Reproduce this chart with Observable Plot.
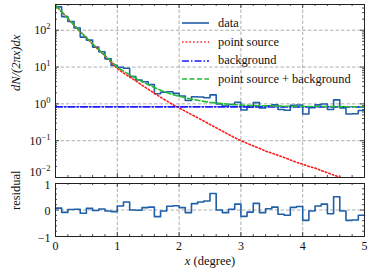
<!DOCTYPE html>
<html><head><meta charset="utf-8">
<script src="https://cdn.jsdelivr.net/npm/d3@7"></script>
<script src="https://cdn.jsdelivr.net/npm/@observablehq/plot@0.6"></script>
<style>
body{margin:0;background:#fff;font-family:"Liberation Serif","Times New Roman","DejaVu Serif",serif;}
#wrap{position:relative;width:373px;height:276px;}
#wrap svg{display:block}
#legend{position:absolute;left:182px;top:14px;font-family:"Liberation Serif","Times New Roman","DejaVu Serif",serif;font-size:12.4px;color:#111;}
#legend .row{height:18.7px;display:flex;align-items:center;}
#legend .row span{margin-left:9px;}
</style></head><body><div id="wrap"><div id="legend"></div></div>
<script>
// ---- data ----
const binEdges = [0,0.1,0.2,0.3,0.4,0.5,0.6,0.7,0.8,0.9,1.0,1.1,1.2,1.3,1.4,1.5,1.6,1.7,1.8,1.9,2.0,2.1,2.2,2.3,2.4,2.5,2.6,2.7,2.8,2.9,3.0,3.1,3.2,3.3,3.4,3.5,3.6,3.7,3.8,3.9,4.0,4.1,4.2,4.3,4.4,4.5,4.6,4.7,4.8,4.9,5.0];
const dataValues = [430,234,173,115,65,54,34.8,26.1,16.7,11.1,9.9,9.3,5.5,4.45,3.98,3.33,1.89,2.06,2.13,1.93,1.64,1.23,1.56,1.53,1.47,1.75,1.0,0.87,0.96,1.11,0.68,0.81,1.08,0.77,0.89,0.94,0.70,0.67,0.91,0.93,0.53,0.79,0.94,0.99,0.70,1.28,0.78,0.53,0.54,0.66];
const residualValues = [0.07,-0.09,0.02,0.03,-0.12,0.06,-0.02,0.04,-0.04,-0.06,0.15,0.3,0.0,-0.01,0.09,0.11,-0.25,-0.04,0.14,0.16,0.09,-0.1,0.24,0.3,0.34,0.62,0.0,-0.1,0.03,0.22,-0.24,-0.08,0.25,-0.1,0.05,0.11,-0.16,-0.2,0.1,0.13,-0.39,-0.04,0.15,0.22,-0.14,0.5,-0.04,-0.39,-0.38,-0.2];
const modelX = binEdges;
const pointSource = [479,316,209,138,91,62,42,29,20,13.5,9.1,6.9,5.4,4.2,3.2,2.5,1.95,1.51,1.2,0.95,0.78,0.63,0.51,0.42,0.34,0.275,0.224,0.182,0.148,0.12,0.1,0.085,0.072,0.062,0.052,0.046,0.040,0.035,0.030,0.026,0.023,0.020,0.018,0.0155,0.0135,0.0117,0.0102,0.0089,0.0078,0.0068,0.0059];
const background = 0.83;
const xTicks = [0,1,2,3,4,5];
const xMinorTicks = [0.2,0.4,0.6,0.8,1.2,1.4,1.6,1.8,2.2,2.4,2.6,2.8,3.2,3.4,3.6,3.8,4.2,4.4,4.6,4.8];
const xGrid = [1,2,3,4];
const yTicks = [0.01,0.1,1,10,100];
const yTickExp = ["−2","−1","0","1","2"];
const resTicks = [-1,0,1];
const resTickLabels = ["−1","0","1"];
const resMinorTicks = [-0.8,-0.6,-0.4,-0.2,0.2,0.4,0.6,0.8];
const legendLabels = ["data","point source","background","point source + background"];

// ---- styles ----
const FONT = "'Liberation Serif', 'Times New Roman', 'DejaVu Serif', serif";
const C = {data:"#1f5fa8", ps:"#ff1a1a", bg:"#1a1aff", sum:"#22bb33", grid:"#9a9a9a", ax:"#222"};
const W = 373, ML = 55, MR = 9;
const PW = W - ML - MR;

const steps = dataValues.map((v,i)=>({x:binEdges[i], y:v})).concat([{x:binEdges[50], y:dataValues[49]}]);
const rsteps = residualValues.map((v,i)=>({x:binEdges[i], y:v})).concat([{x:binEdges[50], y:residualValues[49]}]);
const psLine = modelX.map((x,i)=>({x, y:pointSource[i]}));
const bgLine = modelX.map(x=>({x, y:background}));
const sumLine = modelX.map((x,i)=>({x, y:pointSource[i]+background}));

const yMinor = [];
for (const d of [0.01,0.1,1,10,100]) for (let k=2;k<=9;k++) if (d*k<500) yMinor.push(d*k);

function frameTicks(xs, len, ph) {
  return [
    Plot.tickX(xs,{x:d=>d, insetTop:ph-len, stroke:C.ax, strokeWidth:0.8}),
    Plot.tickX(xs,{x:d=>d, insetBottom:ph-len, stroke:C.ax, strokeWidth:0.8})
  ];
}
function frameTicksY(ys, len) {
  return [
    Plot.tickY(ys,{y:d=>d, insetRight:PW-len, stroke:C.ax, strokeWidth:0.8}),
    Plot.tickY(ys,{y:d=>d, insetLeft:PW-len, stroke:C.ax, strokeWidth:0.8})
  ];
}
const gridStyle = {stroke:C.grid, strokeWidth:0.8, strokeDasharray:"3.5,2"};

const TH = 180, TMT = 4, TMB = 3, TPH = TH - TMT - TMB;
const topChart = Plot.plot({
  width:W, height:TH, marginLeft:ML, marginRight:MR, marginTop:TMT, marginBottom:TMB,
  style:{fontFamily:FONT, fontSize:"12px", background:"white", overflow:"visible"},
  x:{domain:[0,5], axis:null},
  y:{type:"log", domain:[0.01,500], axis:null},
  marks:[
    Plot.ruleX(xGrid, {x:d=>d, ...gridStyle}),
    Plot.ruleY(yTicks.slice(1), {y:d=>d, ...gridStyle}),
    ...frameTicks(xTicks, 4, TPH), ...frameTicks(xMinorTicks, 2, TPH),
    ...frameTicksY(yTicks, 4), ...frameTicksY(yMinor, 2),
    Plot.line(steps, {x:"x", y:"y", curve:"step-after", stroke:C.data, strokeWidth:1.6, clip:true}),
    Plot.line(psLine, {x:"x", y:"y", stroke:C.ps, strokeWidth:1.6, strokeDasharray:"1.5,2.2", clip:true}),
    Plot.line(bgLine, {x:"x", y:"y", stroke:C.bg, strokeWidth:1.6, strokeDasharray:"7,2,1.5,2"}),
    Plot.line(sumLine, {x:"x", y:"y", stroke:C.sum, strokeWidth:1.6, strokeDasharray:"5,2.5", clip:true}),
    Plot.text(yTicks, {y:d=>d, text:(d,i)=>"10^"+yTickExp[i], frameAnchor:"left", textAnchor:"end", dx:-5, fill:"#111", fontFamily:FONT, fontSize:12}),
    Plot.text(["dN/(2πx)dx"], {frameAnchor:"left", dx:-40, rotate:-90, fontStyle:"italic", fontSize:12.5, fill:"#111", fontFamily:FONT}),
    Plot.frame({stroke:C.ax, strokeWidth:1})
  ]
});

const BH = 96, BMT = 3, BMB = 40, BPH = BH - BMT - BMB;
const bottomChart = Plot.plot({
  width:W, height:BH, marginLeft:ML, marginRight:MR, marginTop:BMT, marginBottom:BMB,
  style:{fontFamily:FONT, fontSize:"12px", background:"white", overflow:"visible"},
  x:{domain:[0,5], axis:null},
  y:{domain:[-1,1], axis:null},
  marks:[
    Plot.ruleX(xGrid, {x:d=>d, ...gridStyle}),
    Plot.ruleY([0], {y:d=>d, ...gridStyle}),
    ...frameTicks(xTicks, 4, BPH), ...frameTicks(xMinorTicks, 2, BPH),
    ...frameTicksY(resTicks, 4), ...frameTicksY(resMinorTicks, 2),
    Plot.line(rsteps, {x:"x", y:"y", curve:"step-after", stroke:C.data, strokeWidth:1.6}),
    Plot.text(resTicks, {y:d=>d, text:(d,i)=>resTickLabels[i], frameAnchor:"left", textAnchor:"end", dx:-5, dy:1.5, fill:"#111", fontFamily:FONT, fontSize:12}),
    Plot.text(xTicks, {x:d=>d, text:d=>String(d), frameAnchor:"bottom", lineAnchor:"top", dy:5, fill:"#111", fontFamily:FONT, fontSize:12}),
    Plot.text(["XLABEL"], {frameAnchor:"bottom", lineAnchor:"top", dy:20, fill:"#111", fontSize:12.5, fontFamily:FONT}),
    Plot.text(["residual"], {frameAnchor:"left", dx:-40, rotate:-90, fill:"#111", fontSize:12.5, fontFamily:FONT}),
    Plot.frame({stroke:C.ax, strokeWidth:1})
  ]
});

const wrap = document.getElementById("wrap");
wrap.insertBefore(bottomChart, wrap.firstChild);
wrap.insertBefore(topChart, bottomChart);

topChart.querySelectorAll("text").forEach(t=>{
  const s = t.textContent;
  if (s.startsWith("10^")) {
    const e = s.slice(3);
    t.textContent = "";
    t.appendChild(document.createTextNode("10"));
    const ts = document.createElementNS("http://www.w3.org/2000/svg","tspan");
    ts.setAttribute("dy","-5"); ts.setAttribute("font-size","8.5px");
    ts.textContent = e; t.appendChild(ts);
    if (e === "−2") t.setAttribute("y", String(parseFloat(t.getAttribute("y")||0) - 1.5));
  }
});
bottomChart.querySelectorAll("text").forEach(t=>{
  if (t.textContent === "XLABEL") {
    t.textContent = "";
    const a = document.createElementNS("http://www.w3.org/2000/svg","tspan");
    a.setAttribute("font-style","italic"); a.textContent = "x";
    t.appendChild(a);
    t.appendChild(document.createTextNode(" (degree)"));
  }
});

const dashes = [null, "1.5,2.2", "7,2,1.5,2", "5,2.5"];
const cols = [C.data, C.ps, C.bg, C.sum];
const leg = document.getElementById("legend");
legendLabels.forEach((lab,i)=>{
  const row = document.createElement("div"); row.className="row";
  row.innerHTML = `<svg width="27" height="6"><line x1="0" x2="27" y1="3" y2="3" stroke="${cols[i]}" stroke-width="1.6" ${dashes[i]?`stroke-dasharray="${dashes[i]}"`:""}/></svg><span>${lab}</span>`;
  leg.appendChild(row);
});
</script></body></html>
